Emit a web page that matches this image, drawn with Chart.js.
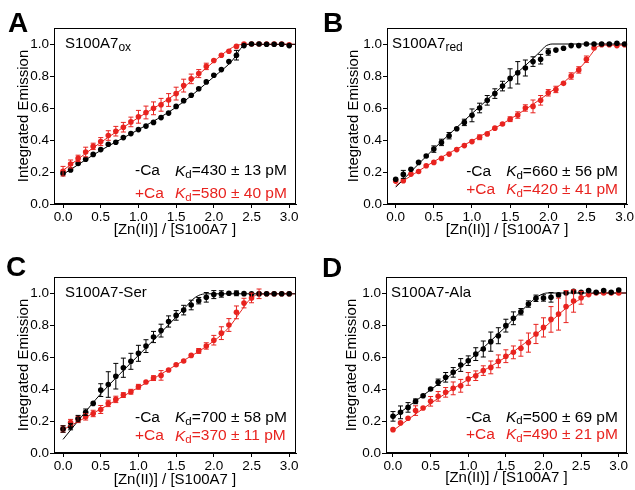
<!DOCTYPE html>
<html>
<head>
<meta charset="utf-8">
<script src="https://cdn.jsdelivr.net/npm/chart.js@4.4.1/dist/chart.umd.min.js"></script>
<style>
  body { margin: 0; background: #fff; width: 635px; height: 490px; position: relative; overflow: hidden; }
  canvas { position: absolute; }
</style>
</head>
<body>
<canvas id="chartA" width="317" height="245" style="left:0;top:0"></canvas>
<canvas id="chartB" width="318" height="245" style="left:317px;top:0"></canvas>
<canvas id="chartC" width="317" height="245" style="left:0;top:245px"></canvas>
<canvas id="chartD" width="318" height="245" style="left:317px;top:245px"></canvas>
<script>
// [Zn(II)] / [S100A7] ratio for every titration point
const ratio = [0.0, 0.1, 0.2, 0.3, 0.4, 0.5, 0.6, 0.7, 0.8, 0.9, 1.0, 1.1, 1.2, 1.3, 1.4, 1.5,
  1.6, 1.7, 1.8, 1.9, 2.0, 2.1, 2.2, 2.3, 2.4, 2.5, 2.6, 2.7, 2.8, 2.9, 3.0];
const xTicks = [0.0, 0.5, 1.0, 1.5, 2.0, 2.5, 3.0];
const yTicks = [0.0, 0.2, 0.4, 0.6, 0.8, 1.0];

// A: S100A7ox
const aBlack = [0.19, 0.213, 0.253, 0.28, 0.31, 0.34, 0.373, 0.386, 0.415, 0.44, 0.465, 0.487, 0.51, 0.54, 0.568, 0.61,
  0.646, 0.68, 0.72, 0.763, 0.805, 0.84, 0.89, 0.93, 0.99, 1.0, 1.0, 0.998, 0.998, 0.998, 0.99];
const aBlackErr = [0.01, 0.01, 0.005, 0.005, 0.005, 0.005, 0.005, 0.005, 0.005, 0.005, 0.005, 0.005, 0.005, 0.005, 0.005, 0.005,
  0.005, 0.005, 0.005, 0.005, 0.005, 0.01, 0.01, 0.03, 0.005, 0.005, 0.005, 0.005, 0.005, 0.005, 0.005];
const aRed = [0.205, 0.25, 0.285, 0.325, 0.36, 0.39, 0.428, 0.455, 0.48, 0.513, 0.545, 0.572, 0.598, 0.62, 0.65, 0.69,
  0.74, 0.782, 0.815, 0.86, 0.897, 0.93, 0.955, 0.985, 1.0, 1.0, 1.0, 1.0, 1.0, 1.0, 0.995];
const aRedErr = [0.03, 0.025, 0.02, 0.03, 0.02, 0.025, 0.03, 0.03, 0.03, 0.03, 0.04, 0.04, 0.04, 0.04, 0.04, 0.04,
  0.04, 0.03, 0.025, 0.02, 0.01, 0.01, 0.01, 0.01, 0.005, 0.005, 0.005, 0.005, 0.005, 0.005, 0.005];
const aBlackFitX = [0, 0.5, 1.0, 1.5, 2.0, 2.25, 2.33, 2.38, 2.42, 3.1];
const aBlackFitY = [0.185, 0.335, 0.465, 0.605, 0.795, 0.90, 0.955, 0.985, 0.998, 0.998];
const aRedFitX = [0, 0.5, 1.0, 1.5, 1.8, 2.0, 2.1, 2.2, 2.3, 2.4, 3.1];
const aRedFitY = [0.21, 0.385, 0.54, 0.69, 0.81, 0.89, 0.93, 0.965, 0.99, 0.998, 0.998];

// B: S100A7red
const bBlack = [0.155, 0.185, 0.217, 0.26, 0.30, 0.343, 0.385, 0.427, 0.47, 0.51, 0.554, 0.60, 0.648, 0.69, 0.737, 0.785,
  0.82, 0.85, 0.89, 0.905, 0.95, 0.962, 0.973, 0.99, 0.99, 1.0, 1.0, 1.0, 1.0, 1.005, 1.0];
const bBlackErr = [0.01, 0.025, 0.005, 0.01, 0.01, 0.02, 0.02, 0.02, 0.01, 0.02, 0.04, 0.03, 0.03, 0.03, 0.03, 0.06,
  0.07, 0.05, 0.03, 0.03, 0.02, 0.01, 0.01, 0.005, 0.005, 0.005, 0.005, 0.005, 0.005, 0.005, 0.005];
const bRed = [0.143, 0.145, 0.187, 0.203, 0.239, 0.26, 0.285, 0.312, 0.34, 0.365, 0.39, 0.417, 0.438, 0.474, 0.50, 0.53,
  0.556, 0.60, 0.61, 0.648, 0.695, 0.716, 0.754, 0.80, 0.838, 0.905, 0.975, 0.996, 0.995, 0.99, 0.995];
const bRedErr = [0.01, 0.01, 0.01, 0.01, 0.01, 0.005, 0.005, 0.005, 0.005, 0.005, 0.01, 0.015, 0.01, 0.01, 0.01, 0.015,
  0.02, 0.02, 0.04, 0.03, 0.02, 0.02, 0.01, 0.02, 0.02, 0.02, 0.01, 0.005, 0.005, 0.005, 0.005];
const bBlackFitX = [0, 0.5, 1.0, 1.5, 1.9, 1.96, 2.0, 2.05, 3.1];
const bBlackFitY = [0.105, 0.345, 0.565, 0.78, 0.955, 0.985, 0.995, 1.0, 1.0];
const bRedFitX = [0, 0.5, 1.0, 1.5, 2.0, 2.3, 2.5, 2.6, 2.65, 2.7, 3.1];
const bRedFitY = [0.115, 0.265, 0.395, 0.53, 0.69, 0.80, 0.895, 0.96, 0.985, 0.993, 0.993];

// C: S100A7-Ser
const cBlack = [0.15, 0.165, 0.215, 0.255, 0.31, 0.393, 0.428, 0.48, 0.533, 0.573, 0.623, 0.668, 0.725, 0.765, 0.822, 0.86,
  0.893, 0.925, 0.952, 0.973, 0.99, 0.994, 0.998, 0.998, 0.996, 0.995, 0.995, 0.995, 0.995, 0.995, 0.995];
const cBlackErr = [0.02, 0.02, 0.02, 0.02, 0.01, 0.04, 0.08, 0.08, 0.06, 0.05, 0.05, 0.04, 0.035, 0.04, 0.035, 0.03,
  0.03, 0.03, 0.02, 0.03, 0.025, 0.02, 0.01, 0.015, 0.01, 0.005, 0.005, 0.005, 0.005, 0.005, 0.005];
const cRed = [0.15, 0.19, 0.21, 0.226, 0.247, 0.272, 0.31, 0.335, 0.362, 0.383, 0.414, 0.444, 0.468, 0.485, 0.519, 0.552,
  0.575, 0.61, 0.638, 0.669, 0.705, 0.749, 0.80, 0.879, 0.937, 0.969, 0.995, 0.995, 0.995, 0.995, 0.995];
const cRedErr = [0.02, 0.02, 0.02, 0.02, 0.02, 0.025, 0.02, 0.02, 0.015, 0.015, 0.015, 0.01, 0.015, 0.03, 0.01, 0.01,
  0.01, 0.01, 0.015, 0.02, 0.03, 0.04, 0.04, 0.04, 0.03, 0.03, 0.03, 0.005, 0.005, 0.005, 0.005];
const cBlackFitX = [0, 0.25, 0.5, 1.0, 1.5, 1.65, 1.72, 1.8, 1.9, 3.1];
const cBlackFitY = [0.085, 0.23, 0.37, 0.61, 0.85, 0.925, 0.96, 0.985, 0.995, 0.995];
const cRedFitX = [0, 0.5, 1.0, 1.5, 2.0, 2.2, 2.35, 2.45, 2.55, 2.6, 3.1];
const cRedFitY = [0.145, 0.275, 0.41, 0.55, 0.70, 0.785, 0.88, 0.945, 0.985, 0.993, 0.995];

// D: S100A7-Ala
const dBlack = [0.229, 0.254, 0.285, 0.323, 0.358, 0.40, 0.442, 0.473, 0.504, 0.55, 0.577, 0.618, 0.65, 0.696, 0.733, 0.796,
  0.842, 0.883, 0.931, 0.967, 0.969, 0.973, 0.988, 1.0, 1.01, 1.004, 1.015, 1.004, 1.015, 1.004, 1.019];
const dBlackErr = [0.03, 0.04, 0.03, 0.015, 0.01, 0.01, 0.02, 0.03, 0.03, 0.04, 0.03, 0.04, 0.05, 0.06, 0.05, 0.04,
  0.04, 0.02, 0.02, 0.02, 0.02, 0.03, 0.01, 0.01, 0.01, 0.005, 0.005, 0.005, 0.005, 0.005, 0.005];
const dRed = [0.146, 0.188, 0.217, 0.265, 0.281, 0.323, 0.354, 0.379, 0.404, 0.42, 0.463, 0.483, 0.515, 0.535, 0.573, 0.605,
  0.629, 0.655, 0.69, 0.744, 0.785, 0.835, 0.868, 0.915, 0.95, 0.97, 0.99, 1.0, 1.0, 1.0, 1.0];
const dRedErr = [0.005, 0.01, 0.01, 0.03, 0.01, 0.03, 0.03, 0.03, 0.04, 0.04, 0.04, 0.03, 0.03, 0.04, 0.04, 0.04,
  0.04, 0.05, 0.06, 0.06, 0.06, 0.08, 0.1, 0.1, 0.07, 0.04, 0.01, 0.005, 0.005, 0.005, 0.005];
const dBlackFitX = [0, 0.5, 1.0, 1.5, 1.8, 1.9, 1.97, 2.05, 3.1];
const dBlackFitY = [0.22, 0.395, 0.575, 0.79, 0.93, 0.97, 0.99, 1.0, 1.0];
const dRedFitX = [0, 0.5, 1.0, 1.5, 2.0, 2.3, 2.5, 2.6, 2.7, 3.1];
const dRedFitY = [0.14, 0.31, 0.46, 0.60, 0.78, 0.905, 0.965, 0.99, 1.0, 1.0];

const RED = '#e8231f';
const FONT = "'Liberation Sans', Arial, Helvetica, sans-serif";
Chart.defaults.font.family = FONT;
Chart.defaults.color = '#000';

const pts = (xs, ys) => xs.map((x, i) => ({ x: x, y: ys[i] }));

const errorBars = {
  id: 'errorBars',
  afterDatasetsDraw(chart) {
    const ctx = chart.ctx, ys = chart.scales.y;
    chart.data.datasets.forEach((ds, i) => {
      if (!ds.err) return;
      const meta = chart.getDatasetMeta(i);
      ctx.save();
      ctx.strokeStyle = ds.borderColor;
      ctx.lineWidth = 1;
      meta.data.forEach((el, j) => {
        const v = ds.data[j].y, e = ds.err[j];
        const top = ys.getPixelForValue(v + e), bot = ys.getPixelForValue(v - e);
        if (bot - top < 4) return;
        ctx.beginPath();
        ctx.moveTo(el.x, top); ctx.lineTo(el.x, bot);
        ctx.moveTo(el.x - 2.5, top); ctx.lineTo(el.x + 2.5, top);
        ctx.moveTo(el.x - 2.5, bot); ctx.lineTo(el.x + 2.5, bot);
        ctx.stroke();
      });
      ctx.restore();
    });
  }
};

function drawRuns(ctx, x, y, runs) {
  runs.forEach(r => {
    ctx.font = r.font;
    ctx.fillStyle = r.color;
    ctx.fillText(r.text, x, y + (r.dy || 0));
    x += ctx.measureText(r.text).width;
  });
}

const panelText = {
  id: 'panelText',
  afterDraw(chart, args, o) {
    const ctx = chart.ctx, a = chart.chartArea, ys = chart.scales.y;
    ctx.save();
    ctx.strokeStyle = '#000';
    ctx.lineWidth = 1;
    ctx.strokeRect(Math.round(a.left) + 0.5, Math.round(a.top) + 0.5,
      Math.round(a.right - a.left) - 1, Math.round(a.bottom - a.top) - 1);

    ctx.textBaseline = 'alphabetic';
    ctx.fillStyle = '#000';
    ctx.font = 'bold 28px ' + FONT;
    ctx.fillText(o.letter, o.letterX, o.letterY);

    ctx.textBaseline = 'middle';
    const yName = ys.getPixelForValue(1.0);
    const nameRuns = [{ text: o.name, font: '15px ' + FONT, color: '#000' }];
    if (o.sub) nameRuns.push({ text: o.sub, font: '12px ' + FONT, color: '#000', dy: 4 });
    drawRuns(ctx, a.left + o.nameDx, yName, nameRuns);

    const kx = a.right - 121, cx = kx - 40;
    [[o.kd1, '#000', '-Ca', o.y1], [o.kd2, RED, '+Ca', o.y2]].forEach(([kd, col, lab, yv]) => {
      const y = ys.getPixelForValue(yv);
      drawRuns(ctx, cx, y, [{ text: lab, font: '15.5px ' + FONT, color: col }]);
      drawRuns(ctx, kx, y, [
        { text: 'K', font: 'italic 15.5px ' + FONT, color: col },
        { text: 'd', font: '11.5px ' + FONT, color: col, dy: 4 },
        { text: kd, font: '15.5px ' + FONT, color: col }
      ]);
    });
    ctx.restore();
  }
};

function makePanel(id, p) {
  const ctx = document.getElementById(id).getContext('2d');
  return new Chart(ctx, {
    type: 'scatter',
    data: {
      datasets: [
        { type: 'line', data: pts(p.bfx, p.bfy), borderColor: '#000', borderWidth: 1, pointRadius: 0,
          cubicInterpolationMode: 'monotone', order: 2 },
        { type: 'line', data: pts(p.rfx, p.rfy), borderColor: RED, borderWidth: 1, pointRadius: 0,
          cubicInterpolationMode: 'monotone', order: 2 },
        { data: pts(ratio, p.red), err: p.redErr, backgroundColor: RED, borderColor: RED,
          pointRadius: 2.8, pointBorderWidth: 0, order: 1 },
        { data: pts(ratio, p.black), err: p.blackErr, backgroundColor: '#000', borderColor: '#000',
          pointRadius: 2.8, pointBorderWidth: 0, order: 0 }
      ]
    },
    options: {
      responsive: false,
      animation: false,
      devicePixelRatio: 1,
      layout: { padding: { left: 0, top: p.top, right: p.right, bottom: 0 } },
      plugins: {
        legend: { display: false },
        tooltip: { enabled: false },
        panelText: p.text
      },
      scales: {
        x: {
          type: 'linear', min: p.xMin, max: p.xMax,
          afterBuildTicks: s => { s.ticks = xTicks.map(v => ({ value: v })); },
          afterFit: s => { s.height = p.xAxisH; },
          ticks: { color: '#000', font: { size: 13.5 }, padding: 1, maxRotation: 0, autoSkip: false,
            callback: v => v.toFixed(1) },
          grid: { drawOnChartArea: false, tickLength: 4, tickColor: '#000' },
          border: { color: '#000', width: 1 },
          title: { display: true, text: '[Zn(II)] / [S100A7 ]', color: '#000', font: { size: 15 },
            padding: { top: 0, bottom: p.xTitlePad } }
        },
        y: {
          min: 0, max: 1.1,
          afterBuildTicks: s => { s.ticks = yTicks.map(v => ({ value: v })); },
          afterFit: s => { s.width = p.yAxisW; },
          ticks: { color: '#000', font: { size: 13.5 }, padding: 1, callback: v => v.toFixed(1) },
          grid: { drawOnChartArea: false, tickLength: 4, tickColor: '#000' },
          border: { color: '#000', width: 1 },
          title: { display: true, text: 'Integrated Emission', color: '#000', font: { size: 15 },
            padding: { top: p.yTitlePad, bottom: 0 } }
        }
      }
    },
    plugins: [errorBars, panelText]
  });
}

makePanel('chartA', {
  black: aBlack, blackErr: aBlackErr, red: aRed, redErr: aRedErr,
  bfx: aBlackFitX, bfy: aBlackFitY, rfx: aRedFitX, rfy: aRedFitY,
  top: 28, right: 21, yAxisW: 54, xAxisH: 41, xMin: -0.12, xMax: 3.09, yTitlePad: 15, xTitlePad: 6,
  text: { letter: 'A', letterX: 8, letterY: 32, name: 'S100A7', sub: 'ox', nameDx: 11,
    kd1: '=430 ± 13 pM', kd2: '=580 ± 40 pM', y1: 0.205, y2: 0.065 }
});
makePanel('chartB', {
  black: bBlack, blackErr: bBlackErr, red: bRed, redErr: bRedErr,
  bfx: bBlackFitX, bfy: bBlackFitY, rfx: bRedFitX, rfy: bRedFitY,
  top: 28, right: 7, yAxisW: 70, xAxisH: 41, xMin: -0.114, xMax: 3.034, yTitlePad: 28, xTitlePad: 6,
  text: { letter: 'B', letterX: 6, letterY: 32, name: 'S100A7', sub: 'red', nameDx: 5,
    kd1: '=660 ± 56 pM', kd2: '=420 ± 41 pM', y1: 0.2, y2: 0.09 }
});
makePanel('chartC', {
  black: cBlack, blackErr: cBlackErr, red: cRed, redErr: cRedErr,
  bfx: cBlackFitX, bfy: cBlackFitY, rfx: cRedFitX, rfy: cRedFitY,
  top: 32, right: 21, yAxisW: 54, xAxisH: 37, xMin: -0.12, xMax: 3.09, yTitlePad: 15, xTitlePad: 1,
  text: { letter: 'C', letterX: 6, letterY: 31, name: 'S100A7-Ser', sub: '', nameDx: 11,
    kd1: '=700 ± 58 pM', kd2: '=370 ± 11 pM', y1: 0.22, y2: 0.105 }
});
makePanel('chartD', {
  black: dBlack, blackErr: dBlackErr, red: dRed, redErr: dRedErr,
  bfx: dBlackFitX, bfy: dBlackFitY, rfx: dRedFitX, rfy: dRedFitY,
  top: 32, right: 8, yAxisW: 69, xAxisH: 37, xMin: -0.093, xMax: 3.11, yTitlePad: 26, xTitlePad: 3,
  text: { letter: 'D', letterX: 5, letterY: 32, name: 'S100A7-Ala', sub: '', nameDx: 5,
    kd1: '=500 ± 69 pM', kd2: '=490 ± 21 pM', y1: 0.223, y2: 0.113 }
});
</script>
</body>
</html>
